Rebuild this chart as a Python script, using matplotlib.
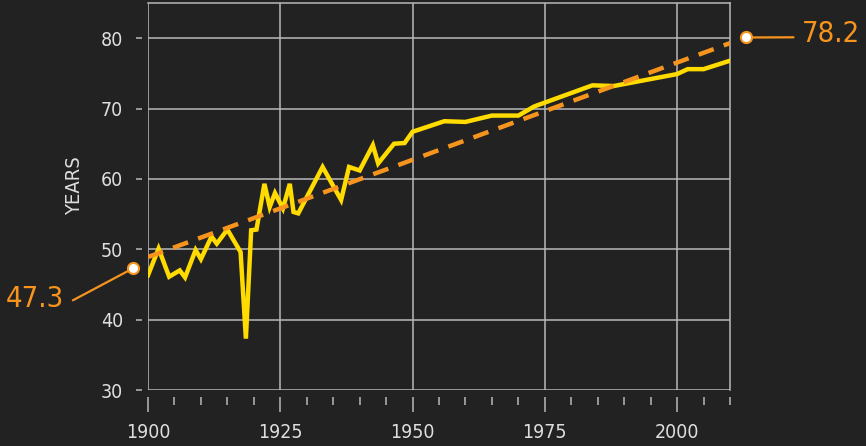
import matplotlib
matplotlib.use("Agg")
import matplotlib.pyplot as plt
from matplotlib.ticker import MultipleLocator

# life expectancy line
years = [1900, 1902, 1904, 1906, 1907, 1909, 1910, 1912, 1913, 1915,
         1917.5, 1918.5, 1919.5, 1920.5, 1922, 1923, 1924, 1925.5, 1926.8, 1927.5,
         1928.4, 1933, 1936.5, 1938, 1940, 1942.5, 1943.5, 1946.5, 1948.5, 1950,
         1956, 1960, 1965, 1970, 1973, 1984, 1988, 2000, 2002, 2005, 2010]
life_exp = [46.3, 50.1, 46.1, 47.0, 46.0, 49.9, 48.6, 51.8, 50.8, 52.8,
            49.6, 37.3, 52.7, 52.8, 59.3, 56.0, 58.0, 55.8, 59.3, 55.3,
            55.1, 61.7, 57.0, 61.7, 61.2, 64.8, 62.2, 65.0, 65.1, 66.7,
            68.2, 68.1, 69.0, 69.0, 70.3, 73.3, 73.2, 74.9, 75.6, 75.6, 76.8]

# dashed trend line
trend_years = [1900, 2010]
trend_vals = [48.9, 79.3]

# end point callouts
callout_years = [1897.2, 2013.0]
callout_vals = [47.3, 80.1]
callout_labels = ["47.3", "78.2"]

bg = "#222222"
grid_col = "#b9b9b9"
text_col = "#dedede"
yellow = "#ffdb00"
orange = "#f7941e"

plt.rcParams['font.family'] = ['DejaVu Sans']
plt.rcParams['font.stretch'] = 'condensed'

fig = plt.figure(figsize=(8.66, 4.46), dpi=100)
fig.patch.set_facecolor(bg)
ax = fig.add_axes([148 / 866, 56 / 446, 582 / 866, 387 / 446])
ax.set_facecolor(bg)

ax.plot(years, life_exp, color=yellow, lw=3.2, solid_joinstyle='miter', zorder=3)
ax.plot(trend_years, trend_vals, color=orange, lw=3.2, dashes=(3.6, 2.4), zorder=4)

ax.set_xlim(1900, 2010)
ax.set_ylim(30, 85)

ax.xaxis.set_major_locator(MultipleLocator(25))
ax.xaxis.set_minor_locator(MultipleLocator(5))
ax.set_yticks([30, 40, 50, 60, 70, 80])

ax.grid(True, which='major', color=grid_col, lw=1.1, zorder=1)
ax.set_axisbelow(True)

# frame: top/right real spines, left/bottom drawn by grid, ticks pushed out
for s in ['top', 'right']:
    ax.spines[s].set_color(grid_col)
    ax.spines[s].set_linewidth(1.1)
ax.spines['left'].set_position(('outward', 4.5))
ax.spines['bottom'].set_position(('outward', 5))
ax.spines['left'].set_visible(False)
ax.spines['bottom'].set_visible(False)

ax.tick_params(axis='x', which='major', length=11, width=1.1, color=grid_col,
               pad=8, labelsize=14, labelcolor=text_col)
ax.tick_params(axis='x', which='minor', length=6, width=1.1, color=grid_col)
ax.tick_params(axis='y', which='major', length=4.5, width=1.1, color=grid_col,
               pad=9, labelsize=14, labelcolor=text_col)

fig.text(75 / 866, 1 - 186 / 446, "YEARS", rotation=90, ha='center', va='center',
         fontsize=14.5, color=text_col)

# callouts
ax.plot(callout_years, callout_vals, 'o', ms=8, mfc='white', mec=orange, mew=1.5,
        clip_on=False, zorder=6)
ax.annotate(callout_labels[0], xy=(callout_years[0], callout_vals[0]),
            xytext=(-98, -31), textcoords='offset pixels', ha='center', va='center',
            fontsize=21, color=orange,
            arrowprops=dict(arrowstyle='-', color=orange, lw=1.6, relpos=(1, 0.3),
                            patchA=None, shrinkA=7, shrinkB=4),
            annotation_clip=False, zorder=5)
ax.annotate(callout_labels[1], xy=(callout_years[1], callout_vals[1]),
            xytext=(56, 3), textcoords='offset pixels', ha='left', va='center',
            fontsize=21, color=orange,
            arrowprops=dict(arrowstyle='-', color=orange, lw=1.6, relpos=(0, 0.4),
                            patchA=None, shrinkA=6, shrinkB=4),
            annotation_clip=False, zorder=5)

fig.savefig("out.png", dpi=100, facecolor=bg)
